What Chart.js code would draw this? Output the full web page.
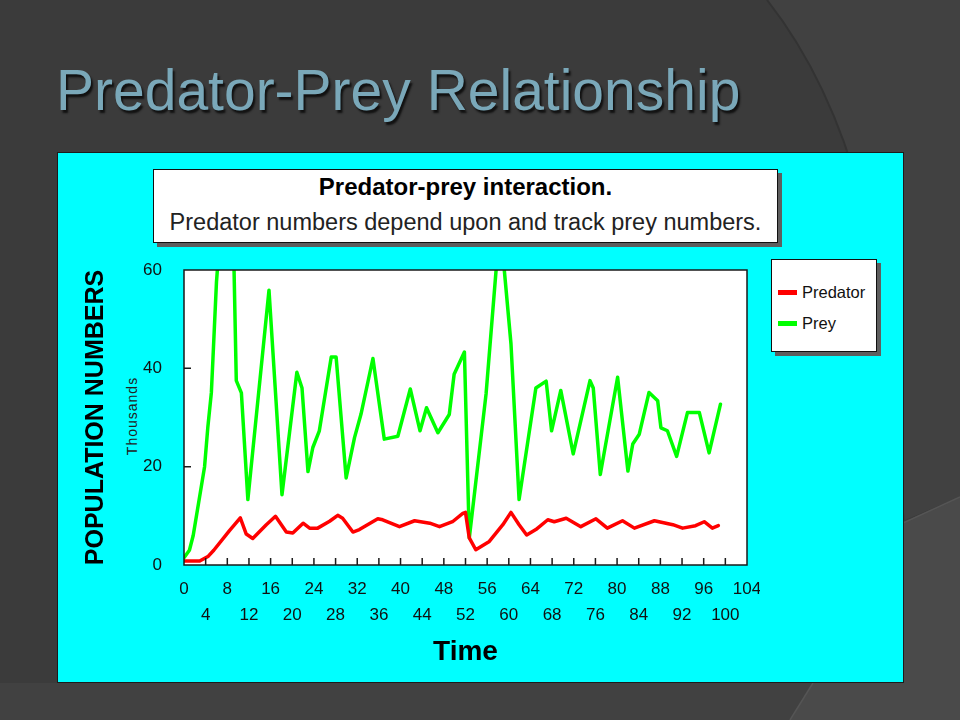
<!DOCTYPE html>
<html>
<head>
<meta charset="utf-8">
<title>Predator-Prey Relationship</title>
<script src="https://cdn.jsdelivr.net/npm/chart.js@4.4.0/dist/chart.umd.min.js"></script>
<style>
  html, body { margin: 0; padding: 0; }
  body {
    width: 960px; height: 720px; position: relative; overflow: hidden;
    background: #3b3b3b; font-family: 'Liberation Sans', Arial, sans-serif;
  }
  #bg { position: absolute; left: 0; top: 0; }
  #slide-title {
    position: absolute; left: 56px; top: 62px;
    font-size: 57px; line-height: 57px; color: #7aa8b9;
    text-shadow: 2px 3px 2px #111; white-space: nowrap;
  }
  #panel {
    position: absolute; left: 57px; top: 152px; width: 847px; height: 531px;
    box-sizing: border-box; background: #00ffff; border: 1.5px solid #1c1c1c;
  }
  .box {
    position: absolute; box-sizing: border-box; background: #fff;
    border: 1.5px solid #111; box-shadow: 4px 4px 0 #5e5e5e;
  }
  #head-box { left: 153px; top: 169px; width: 625px; height: 74px; }
  #head-box div { position: absolute; left: 0; right: 0; text-align: center; color: #000; white-space: nowrap; }
  #head-1 { top: 4px; font-size: 24px; line-height: 26px; font-weight: bold; }
  #head-2 { top: 39px; font-size: 23.5px; line-height: 26px; color: #222 !important; }
  #legend-box { left: 771px; top: 259px; width: 106px; height: 93px; }
  .leg-item { position: absolute; left: 6px; height: 20px; font-size: 16.5px; line-height: 20px; color: #111; white-space: nowrap; }
  .leg-item span { display: inline-block; width: 19px; height: 4.5px; margin-right: 5px; vertical-align: middle; position: relative; top: -1px; }
  #thousands {
    position: absolute; left: 92px; top: 408px; width: 80px; height: 16px;
    font-size: 14px; line-height: 16px; letter-spacing: 1px; color: #222; text-align: center;
    transform: rotate(-90deg);
  }
  #chart { position: absolute; left: 60px; top: 258px; }
</style>
</head>
<body>
<svg id="bg" width="960" height="720">
  <rect width="960" height="720" fill="#3b3b3b"/>
  <path d="M767 0 Q830 80 862 200 L905 520 L960 497 L960 0 Z" fill="#414141"/>
  <path d="M767 0 Q830 80 862 200" fill="none" stroke="#333" stroke-width="2"/>
  <path d="M0 683 L960 683 L960 720 L0 720 Z" fill="#414141"/>
  <path d="M903 523 L960 497 L960 720 L790 720 L813 683 L903 683 Z" fill="#4a4a4a"/>
  <path d="M903 523 L960 497" stroke="#555" stroke-width="1.5"/>
  <path d="M813 683 L790 720" stroke="#555" stroke-width="1.5"/>
</svg>

<div id="slide-title">Predator-Prey Relationship</div>
<div id="panel"></div>
<div id="head-box" class="box">
  <div id="head-1">Predator-prey interaction.</div>
  <div id="head-2">Predator numbers depend upon and track prey numbers.</div>
</div>
<div id="legend-box" class="box"></div>
<div id="thousands">Thousands</div>
<canvas id="chart" width="700" height="420"></canvas>

<script>
// --- Data (time, thousands) ---
const predTime   = [0, 2.9, 4.5, 5.5, 8.4, 10.4, 11.5, 12.7, 15.2, 16.9, 18.9, 20.1, 22.0, 23.2, 24.7, 26.9, 28.4, 29.3,
                    31.2, 32.4, 35.8, 36.7, 39.8, 42.6, 45.4, 47.2, 49.6, 51.5, 52.0, 52.7, 53.9, 56.4, 58.9, 60.4,
                    61.9, 63.3, 65.0, 67.2, 68.4, 70.6, 73.3, 76.1, 78.2, 81.0, 83.2, 86.9, 90.3, 92.1, 94.5, 96.1, 97.6, 98.7];
const predValues = [0.8, 0.8, 1.8, 3.0, 7.0, 9.6, 6.3, 5.4, 8.2, 9.9, 6.7, 6.5, 8.5, 7.5, 7.5, 8.9, 10.1, 9.5,
                    6.7, 7.2, 9.4, 9.2, 7.8, 9.0, 8.5, 7.8, 8.8, 10.5, 10.7, 5.5, 3.1, 4.8, 8.2, 10.7,
                    8.2, 6.1, 7.2, 9.2, 8.8, 9.5, 7.8, 9.4, 7.5, 9.0, 7.5, 9.0, 8.2, 7.5, 8.0, 8.8, 7.5, 8.0];

const preyTime   = [0, 1.0, 1.7, 2.9, 3.8, 4.4, 5.05, 5.35, 6.0, 8.6, 9.66, 10.6, 11.8, 15.7, 18.1, 20.85, 21.8, 22.9,
                    23.8, 25.0, 27.2, 28.1, 29.95, 31.5, 32.7, 34.9, 37.0, 39.5, 41.8, 43.6, 44.8, 46.9, 49.0, 49.9,
                    51.8, 52.7, 55.8, 57.8, 59.0, 60.4, 61.9, 65.0, 66.9, 67.9, 69.6, 71.9, 75.0, 75.6, 76.9, 80.1,
                    82.0, 82.9, 84.1, 85.9, 87.5, 88.1, 89.3, 91.0, 93.0, 95.2, 97.0, 99.1];
const preyValues = [1.5, 3.0, 6.0, 14.0, 20.0, 28.0, 35.0, 42.0, 57.6, 95.0, 37.5, 35.0, 13.3, 55.9, 14.3, 39.2, 36.0, 19.0,
                    23.9, 27.3, 42.3, 42.3, 17.7, 25.9, 30.7, 42.0, 25.6, 26.2, 35.8, 27.3, 32.0, 26.9, 30.6, 38.8,
                    43.3, 5.5, 34.8, 62.0, 62.0, 45.0, 13.3, 36.0, 37.4, 27.3, 35.5, 22.6, 37.5, 36.0, 18.4, 38.2,
                    19.1, 24.6, 26.6, 35.1, 33.4, 27.9, 27.3, 22.1, 31.0, 31.0, 22.8, 32.7];

const seriesNames  = ['Predator', 'Prey'];
const seriesColors = ['#ff0000', '#00ff00'];

const xMin = 0, xMax = 104, xStep = 4;
const yMin = 0, yMax = 60, yStep = 20;

function toPoints(xs, ys) {
    return xs.map((x, i) => ({ x: x, y: ys[i] }));
}

// white plot area, frame and inward tick marks
const framePlugin = {
    id: 'frame',
    beforeDatasetsDraw(chart) {
        const { ctx, chartArea: a } = chart;
        ctx.save();
        ctx.fillStyle = '#ffffff';
        ctx.fillRect(a.left, a.top, a.right - a.left, a.bottom - a.top);
        ctx.restore();
    },
    afterDatasetsDraw(chart) {
        const { ctx, chartArea: a } = chart;
        const xs = chart.scales.x, ys = chart.scales.y;
        ctx.save();
        ctx.strokeStyle = '#1a1a1a';
        ctx.lineWidth = 1.5;
        ctx.beginPath();
        xs.ticks.forEach(t => {
            if (t.value <= xMin || t.value >= xMax) return;
            const px = xs.getPixelForValue(t.value);
            ctx.moveTo(px, a.bottom);
            ctx.lineTo(px, a.bottom - 7);
        });
        ys.ticks.forEach(t => {
            if (t.value <= yMin || t.value >= yMax) return;
            const py = ys.getPixelForValue(t.value);
            ctx.moveTo(a.left, py);
            ctx.lineTo(a.left + 7, py);
        });
        ctx.stroke();
        ctx.strokeRect(a.left, a.top, a.right - a.left, a.bottom - a.top);
        ctx.restore();
    }
};

Chart.defaults.font.family = "'Liberation Sans', Arial, sans-serif";

const chart = new Chart(document.getElementById('chart'), {
    type: 'line',
    data: {
        datasets: [
            { label: seriesNames[0], data: toPoints(predTime, predValues), borderColor: seriesColors[0], clip: 0 },
            { label: seriesNames[1], data: toPoints(preyTime, preyValues), borderColor: seriesColors[1], clip: 0 }
        ]
    },
    options: {
        responsive: false,
        animation: false,
        layout: { padding: { top: 12, right: 13, bottom: 0, left: 0 } },
        plugins: { legend: { display: false }, tooltip: { enabled: false } },
        elements: {
            point: { radius: 0 },
            line: { borderWidth: 3.5, tension: 0, borderJoinStyle: 'round', borderCapStyle: 'round' }
        },
        scales: {
            x: {
                type: 'linear', min: xMin, max: xMax,
                afterFit: s => { s.height = 113; s.paddingLeft = 0; s.paddingRight = 0; },
                grid: { display: false }, border: { display: false },
                ticks: {
                    stepSize: xStep, autoSkip: false, maxRotation: 0, padding: 3,
                    color: '#111', font: { size: 17, lineHeight: 26 / 17 },
                    // alternate the labels on two rows
                    callback: v => ((v / xStep) % 2 === 0 ? [String(v), ''] : ['', String(v)])
                },
                title: {
                    display: true, text: 'Time', color: '#000',
                    font: { size: 28, weight: 'bold', lineHeight: 1.2 }, padding: { top: 0, bottom: 9 }
                }
            },
            y: {
                min: yMin, max: yMax,
                afterFit: s => { s.width = 124; s.paddingTop = 0; s.paddingBottom = 0; },
                grid: { display: false }, border: { display: false },
                ticks: { stepSize: yStep, padding: 14, color: '#111', font: { size: 17 } },
                title: {
                    display: true, text: 'POPULATION NUMBERS', color: '#000',
                    font: { size: 25, weight: 'bold', lineHeight: 1.2 }, padding: { top: 21, bottom: 0 }
                }
            }
        }
    },
    plugins: [framePlugin]
});

// legend box built from the datasets
const legendBox = document.getElementById('legend-box');
chart.data.datasets.forEach((ds, i) => {
    const item = document.createElement('div');
    item.className = 'leg-item';
    item.style.top = (22 + i * 31) + 'px';
    item.innerHTML = `<span style="background:${ds.borderColor}"></span>${ds.label}`;
    legendBox.appendChild(item);
});
</script>
</body>
</html>
